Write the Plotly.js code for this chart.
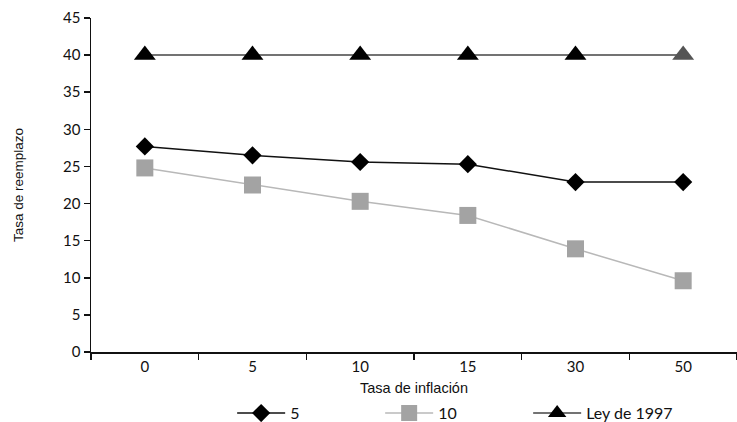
<!DOCTYPE html>
<html>
<head>
<meta charset="utf-8">
<script src="https://cdn.plot.ly/plotly-3.0.1.min.js"></script>
<style>html,body{margin:0;padding:0;background:#fff;}#chart{width:737px;height:422px;}</style>
</head>
<body>
<div id="chart"></div>
<script>
const categories = ["0", "5", "10", "15", "30", "50"];
const serie5 = [27.7, 26.5, 25.6, 25.3, 22.9, 22.9];
const serie10 = [24.8, 22.5, 20.3, 18.4, 13.9, 9.6];
const ley1997 = [40, 40, 40, 40, 40, 40];
const seriesNames = ["5", "10", "Ley de 1997"];
const yTicks = [0, 5, 10, 15, 20, 25, 30, 35, 40, 45];

const font = "Lato, 'Open Sans', sans-serif";
const titleFont = "'Liberation Sans', Arial, sans-serif";

const traces = [
  {x: categories, y: serie5, name: seriesNames[0], type: "scatter", mode: "lines+markers", cliponaxis: false,
   line: {color: "#111", width: 1.5}, marker: {symbol: "diamond", size: 14, color: "#000"}},
  {x: categories, y: serie10, name: seriesNames[1], type: "scatter", mode: "lines+markers", cliponaxis: false,
   line: {color: "#b8b8b8", width: 1.5}, marker: {symbol: "square", size: 17, color: "#a3a3a3"}},
  {x: categories, y: ley1997, name: seriesNames[2], type: "scatter", mode: "lines+markers", cliponaxis: false,
   line: {color: "#444", width: 1.5},
   marker: {symbol: "triangle-up", size: 19, color: ["#000", "#000", "#000", "#000", "#000", "#555"]}}
];

const layout = {
  width: 737, height: 422,
  margin: {l: 91, r: 0, t: 18, b: 70, autoexpand: false},
  paper_bgcolor: "#fff", plot_bgcolor: "#fff",
  font: {family: font, color: "#111", size: 15},
  showlegend: true,
  legend: {orientation: "h", xref: "container", yref: "container", x: 0.315, xanchor: "left", y: 0.021, yanchor: "middle",
           font: {family: font, size: 16, color: "#111"}, itemwidth: 48, entrywidth: 85, bgcolor: "rgba(0,0,0,0)"},
  xaxis: {
    type: "category", range: [-0.5, 5.5], showgrid: false, zeroline: false, showline: true, linecolor: "#111", linewidth: 1.5,
    ticks: "outside", ticklen: 6, tickcolor: "#111", tickwidth: 1.5, tickson: "boundaries",
    tickfont: {family: font, size: 15, color: "#111"},
    title: {text: "Tasa de inflación", font: {family: titleFont, size: 14.5, color: "#111"}, standoff: 11}
  },
  yaxis: {
    range: [0, 45], tickvals: yTicks, showgrid: false, zeroline: false, showline: true,
    linecolor: "#111", linewidth: 1.5, ticks: "outside", ticklen: 6, tickcolor: "#111", tickwidth: 1.5,
    tickfont: {family: font, size: 15, color: "#111"},
    title: {text: "Tasa de reemplazo", font: {family: titleFont, size: 13.5, color: "#111"}, standoff: 36}
  }
};

Plotly.newPlot("chart", traces, layout, {displayModeBar: false, staticPlot: true});
</script>
</body>
</html>
